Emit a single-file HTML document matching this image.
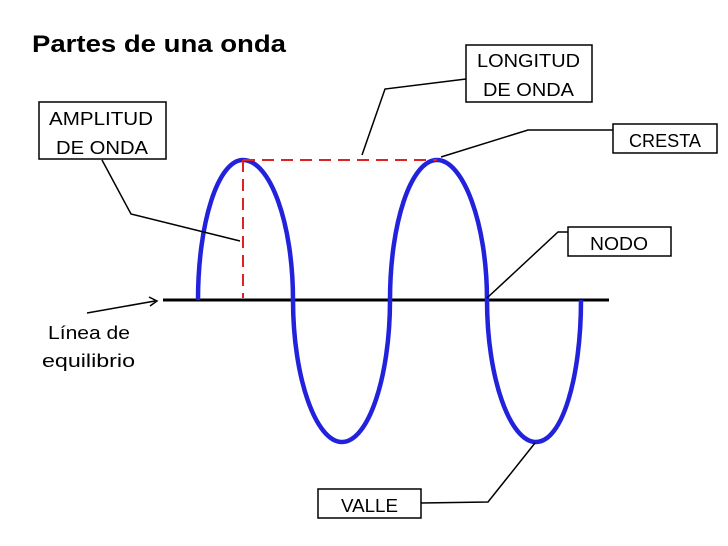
<!DOCTYPE html>
<html><head><style>body{margin:0;background:#fff}svg{display:block}</style></head>
<body>
<svg width="728" height="546" viewBox="0 0 728 546" xmlns="http://www.w3.org/2000/svg" font-family="Liberation Sans, sans-serif">
<text x="32" y="52" font-size="24" font-weight="bold" textLength="254" lengthAdjust="spacingAndGlyphs">Partes de una onda</text>
<line x1="163" y1="300" x2="609" y2="300" stroke="#000" stroke-width="3"/>
<path d="M198,300 C198,223 218,160 243,160 C270,160 293,223 293,300 C293,378 316,442 342,442 C368,442 390,378 390,300 C390,223 411,160 437,160 C463,160 487,223 487,300 C487,378 510,442 536,442 C562,442 581,378 581,300" fill="none" stroke="#2222dd" stroke-width="4.5"/>
<path d="M243,160 L437,160 M243,160 L243,298" fill="none" stroke="#dd2222" stroke-width="2" stroke-dasharray="12,7"/>
<g stroke="#000" stroke-width="1.5" fill="none">
<polyline points="102,160 131,214 240,241"/>
<polyline points="466,79 385,89 362,155"/>
<polyline points="613,130 528,130 441,157"/>
<polyline points="568,232 558,232 487,298"/>
<polyline points="421,503 488,502 535,443"/>
<line x1="87" y1="313" x2="155" y2="301"/>
<polyline points="149,297 157,301 150,306"/>
</g>
<g stroke="#000" stroke-width="1.5" fill="#fff">
<rect x="39" y="102" width="127" height="57"/>
<rect x="466" y="45" width="126" height="57"/>
<rect x="613" y="124" width="104" height="29"/>
<rect x="568" y="227" width="103" height="29"/>
<rect x="318" y="489" width="103" height="29"/>
</g>
<g font-size="18">
<text x="49" y="125" textLength="104" lengthAdjust="spacingAndGlyphs">AMPLITUD</text>
<text x="56" y="154" textLength="92" lengthAdjust="spacingAndGlyphs">DE ONDA</text>
<text x="477" y="67" textLength="103" lengthAdjust="spacingAndGlyphs">LONGITUD</text>
<text x="483" y="96" textLength="91" lengthAdjust="spacingAndGlyphs">DE ONDA</text>
<text x="629" y="147" textLength="72" lengthAdjust="spacingAndGlyphs">CRESTA</text>
<text x="590" y="250" textLength="58" lengthAdjust="spacingAndGlyphs">NODO</text>
<text x="341" y="512" textLength="57" lengthAdjust="spacingAndGlyphs">VALLE</text>
<text x="48" y="339" textLength="82" lengthAdjust="spacingAndGlyphs">Línea de</text>
<text x="42" y="367" textLength="93" lengthAdjust="spacingAndGlyphs">equilibrio</text>
</g>
</svg>
</body></html>
